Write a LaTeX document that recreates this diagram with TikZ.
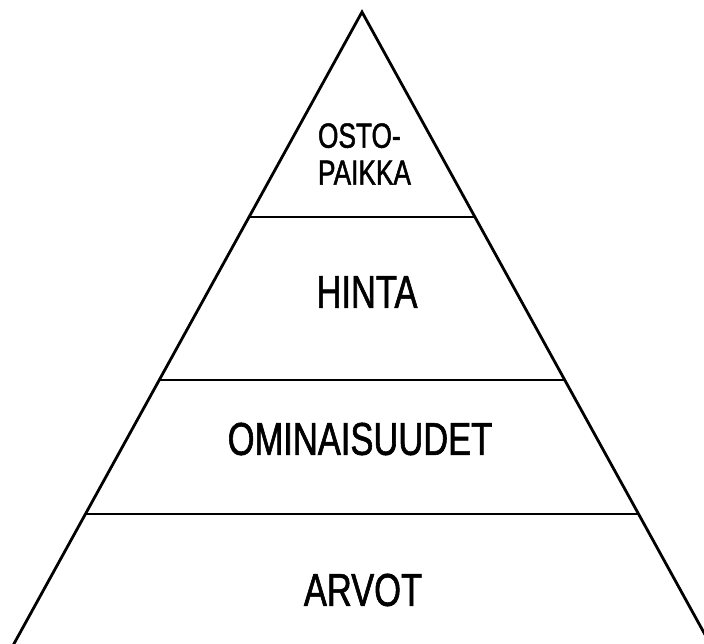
\documentclass[tikz,border=0pt]{standalone}
\usepackage{fontspec}
\newfontfamily\pyrfont[FakeStretch=0.75, FakeBold=1.3]{Liberation Sans}
\usepackage{tikz}

\tikzset{
  level/.style={inner sep=0pt, font=\pyrfont\fontsize{46}{50}\selectfont},
  toplevel/.style={inner sep=0pt, align=left, font=\pyrfont\fontsize{35}{37}\selectfont},
}

\begin{document}
\begin{tikzpicture}[x=1pt, y=-1pt, line width=2.8pt, line join=miter]
    \useasboundingbox (0,0) rectangle (704,644);
    \coordinate (top) at (362,12);
    \coordinate (bl) at (13,645.5);
    \coordinate (br) at (711,645.5);
    \coordinate (l1) at (248.8,217);
    \coordinate (r1) at (475.2,217);
    \coordinate (l2) at (158.9,380);
    \coordinate (r2) at (565.1,380);
    \coordinate (l3) at (84.9,514);
    \coordinate (r3) at (639.1,514);
    \draw (top) -- (bl) -- (br) -- cycle;
    \draw (l1) -- (r1);
    \draw (l2) -- (r2);
    \draw (l3) -- (r3);
    \node[toplevel] (osto) at (364.5,154) {OSTO-\\PAIKKA};
    \node[level] (hinta) at (367,292) {HINTA};
    \node[level] (omin) at (360,439) {OMINAISUUDET};
    \node[level] (arvot) at (363,590) {ARVOT};
\end{tikzpicture}
\end{document}
